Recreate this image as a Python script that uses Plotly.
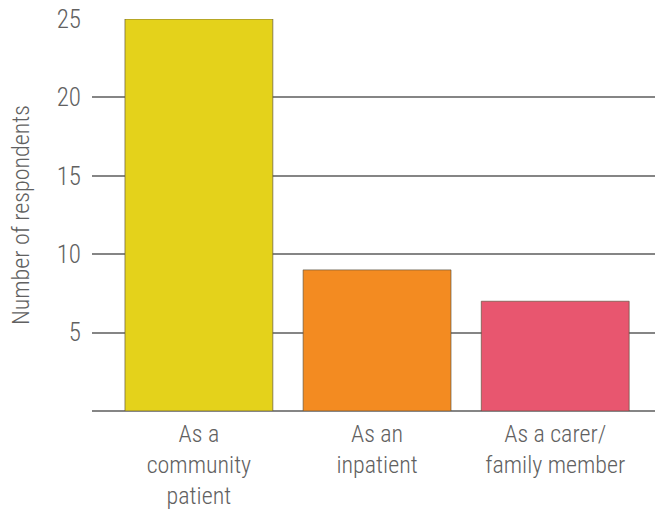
import plotly.graph_objects as go

categories = ["As a<br>community<br>patient", "As an<br>inpatient", "As a carer/<br>family member"]
respondents = [25, 9, 7]
bar_colors = ["#E4D21B", "#F38B21", "#E8566F"]
y_ticks = [5, 10, 15, 20, 25]

FONT = "Roboto Condensed, Open Sans, sans-serif"
TEXT = "#616161"
GRID = "#858585"

fig = go.Figure(
    go.Bar(
        x=categories,
        y=respondents,
        marker=dict(color=bar_colors, line=dict(color="rgba(90,80,60,0.65)", width=1)),
        width=0.83,
        hoverinfo="x+y",
    )
)

fig.update_layout(
    width=655,
    height=512,
    paper_bgcolor="white",
    plot_bgcolor="white",
    margin=dict(l=92, r=0, t=19, b=101),
    showlegend=False,
    font=dict(family=FONT, color=TEXT, weight=300),
    xaxis=dict(
        range=[-0.6, 2.56],
        showgrid=False,
        showline=False,
        zeroline=False,
        ticks="",
        tickfont=dict(size=24, color=TEXT, weight=300),
        ticklabelstandoff=6,
    ),
    yaxis=dict(
        range=[0, 25],
        tickvals=y_ticks,
        showgrid=True,
        gridcolor=GRID,
        gridwidth=1.6,
        zeroline=True,
        zerolinecolor=GRID,
        zerolinewidth=1.6,
        showline=False,
        ticks="",
        tickfont=dict(size=25, color=TEXT, weight=300),
        ticklabelstandoff=10,
        title=dict(
            text="Number of respondents",
            font=dict(size=24, color=TEXT, weight=300),
            standoff=20,
        ),
    ),
)

fig.write_html("out.html")
